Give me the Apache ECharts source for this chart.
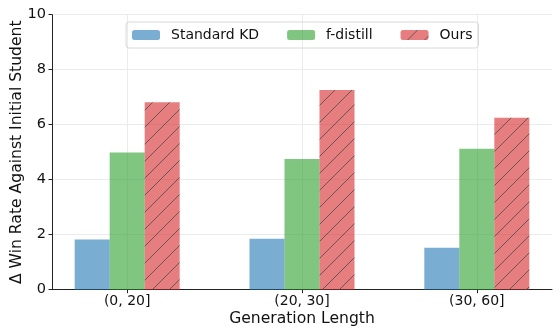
<!DOCTYPE html>
<html><head><meta charset="utf-8">
<script src="https://cdn.jsdelivr.net/npm/echarts@6/dist/echarts.min.js"></script>
<style>html,body{margin:0;padding:0;background:#fff}#c{width:560px;height:336px}</style>
</head><body><div id="c"></div>
<script>
const categories = ["(0, 20]", "(20, 30]", "(30, 60]"];
const seriesNames = ["Standard KD", "f-distill", "Ours"];
const standardKD = [1.83, 1.85, 1.53];
const fDistill = [4.99, 4.75, 5.13];
const ours = [6.82, 7.26, 6.25];
const yTicks = [0, 2, 4, 6, 8, 10];

function hatch() {
  const s = 17;
  const c = document.createElement('canvas');
  c.width = s; c.height = s;
  const g = c.getContext('2d');
  g.fillStyle = 'rgba(214,39,40,0.6)';
  g.fillRect(0, 0, s, s);
  g.strokeStyle = 'rgba(70,70,70,0.75)';
  g.lineWidth = 1;
  g.beginPath();
  g.moveTo(-1, s + 1); g.lineTo(s + 1, -1);
  g.moveTo(-1, 1); g.lineTo(1, -1);
  g.moveTo(s - 1, s + 1); g.lineTo(s + 1, s - 1);
  g.stroke();
  return c;
}

const font = 'DejaVu Sans';
const chart = echarts.init(document.getElementById('c'), null, {renderer: 'canvas'});
const toData = arr => arr.map((v, i) => [i, v]);
chart.setOption({
  animation: false,
  textStyle: {fontFamily: font},
  grid: {left: 52, right: 8, top: 14.7, bottom: 46.3, containLabel: false, outerBoundsMode: 'none'},
  legend: {
    top: 22, left: 126,
    data: seriesNames,
    itemWidth: 28, itemHeight: 10, itemGap: 28,
    padding: [6, 6, 6, 6],
    borderColor: '#d8d8d8', borderWidth: 1, borderRadius: 3,
    textStyle: {fontFamily: font, fontSize: 14, color: '#111', padding: [0, 0, 0, 6]}
  },
  xAxis: {
    type: 'value', min: -0.43, max: 2.43,
    name: 'Generation Length', nameLocation: 'middle', nameGap: 21, nameMoveOverlap: false,
    nameTextStyle: {fontFamily: font, fontSize: 15.6, color: '#111'},
    axisLine: {show: true, onZero: false, lineStyle: {color: '#222', width: 1}},
    axisTick: {show: true, length: 3.5, lineStyle: {color: '#222'}, customValues: [0, 1, 2]},
    axisLabel: {customValues: [0, 1, 2], formatter: v => categories[Math.round(v)], fontFamily: font, fontSize: 14, color: '#111', margin: 5},
    splitLine: {show: true, lineStyle: {color: '#ebebeb', width: 1}}
  },
  yAxis: {
    type: 'value', min: 0, max: 10, interval: 2,
    name: 'Δ Win Rate Against Initial Student', nameLocation: 'middle', nameGap: 27.5, nameMoveOverlap: false,
    nameTextStyle: {fontFamily: font, fontSize: 15.6, color: '#111'},
    axisLine: {show: true, onZero: false, lineStyle: {color: '#222', width: 1}},
    axisTick: {show: true, length: 3.5, lineStyle: {color: '#222'}},
    axisLabel: {fontFamily: font, fontSize: 14.5, color: '#111', margin: 6, formatter: v => yTicks.includes(v) ? String(v) : ''},
    splitLine: {show: true, lineStyle: {color: '#ebebeb', width: 1}}
  },
  series: [
    {name: seriesNames[0], type: 'bar', data: toData(standardKD), barWidth: 35, barGap: '0%', itemStyle: {color: 'rgba(31,119,180,0.6)'}},
    {name: seriesNames[1], type: 'bar', data: toData(fDistill), barWidth: 35, barGap: '0%', itemStyle: {color: 'rgba(44,160,44,0.6)'}},
    {name: seriesNames[2], type: 'bar', data: toData(ours), barWidth: 35, barGap: '0%', itemStyle: {color: {image: hatch(), repeat: 'repeat'}}}
  ]
});
</script></body></html>
